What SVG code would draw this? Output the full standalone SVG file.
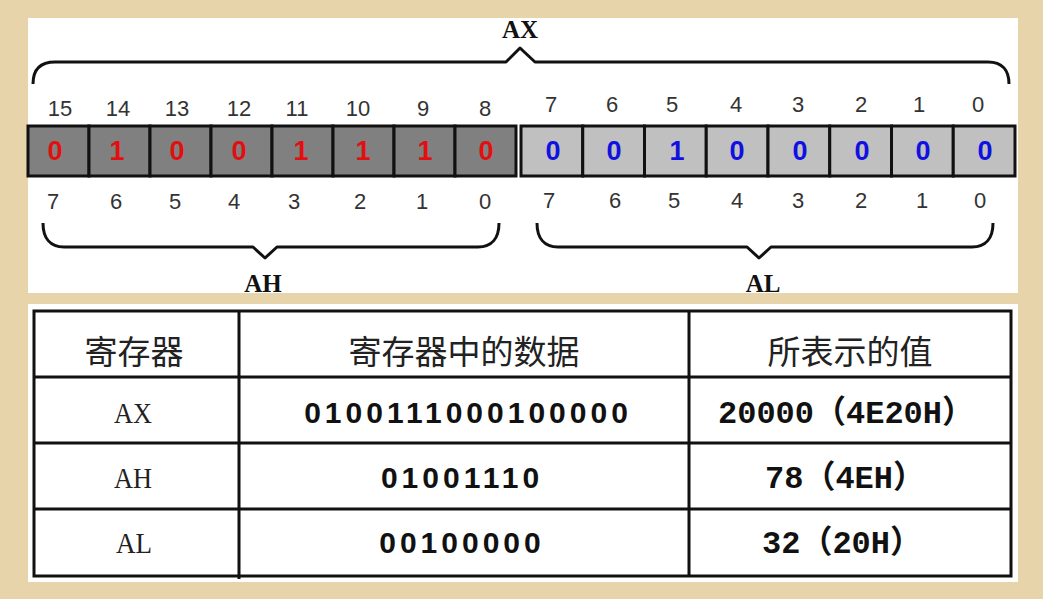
<svg xmlns="http://www.w3.org/2000/svg" width="1043" height="599" viewBox="0 0 1043 599">
<defs>
<style>
.panel{fill:#ffffff}
.cellH{fill:#808080;stroke:#111;stroke-width:3}
.cellL{fill:#c0c0c0;stroke:#111;stroke-width:3}
.bitH{font-family:"Liberation Sans",Arial,sans-serif;font-weight:bold;font-size:27px;fill:#e01010;text-anchor:middle}
.bitL{font-family:"Liberation Sans",Arial,sans-serif;font-weight:bold;font-size:27px;fill:#1010e0;text-anchor:middle}
.idx{font-family:"Liberation Sans",Arial,sans-serif;font-size:22px;fill:#333;text-anchor:middle}
.brace{fill:none;stroke:#111;stroke-width:3;stroke-linejoin:round}
.reg{font-family:"Liberation Serif","Times New Roman",serif;font-weight:bold;font-size:25px;fill:#111;text-anchor:middle}
.grid{stroke:#111;stroke-width:3;fill:none}
.hdr{font-family:"Noto Sans CJK SC","Noto Sans",sans-serif;font-size:33px;fill:#222;text-anchor:middle}
.name{font-family:"Liberation Serif","Times New Roman",serif;font-size:30px;fill:#222;text-anchor:middle}
.bin{font-family:"Liberation Sans",Arial,sans-serif;font-weight:bold;font-size:30px;fill:#111;text-anchor:middle;letter-spacing:4px}
.val{font-family:"Liberation Mono","Courier New","Noto Sans CJK SC",monospace;font-weight:bold;font-size:32px;fill:#111;text-anchor:middle}
</style>
</defs>
<rect width="1043" height="599" fill="#e8d4ab"/>
<rect class="panel" x="28" y="18" width="990" height="275"/>
<rect class="panel" x="28" y="304" width="990" height="278"/>

<g id="ax-label"><text class="reg" x="520" y="38">AX</text></g>
<g id="ah-label"><text class="reg" x="263" y="292">AH</text></g>
<g id="al-label"><text class="reg" x="763" y="292">AL</text></g>

<g id="braces">
<path class="brace" d="M33,84 C33,70 40,62 55,62 L506,62 L520,48 L535,62 L988,62 C1002,62 1009,70 1009,84"/>
<path class="brace" d="M43,223 C43,238 50,247 64,247 L253,247 L265,258 L277,247 L478,247 C492,247 499,238 499,223"/>
<path class="brace" d="M537,223 C537,238 544,247 558,247 L747,247 L759,258 L771,247 L972,247 C986,247 993,238 993,223"/>
</g>

<g id="ah-cells">
<rect class="cellH" x="28" y="126" width="61" height="50"/>
<rect class="cellH" x="89" y="126" width="61" height="50"/>
<rect class="cellH" x="150" y="126" width="61" height="50"/>
<rect class="cellH" x="211" y="126" width="61" height="50"/>
<rect class="cellH" x="272" y="126" width="61" height="50"/>
<rect class="cellH" x="333" y="126" width="61" height="50"/>
<rect class="cellH" x="394" y="126" width="61" height="50"/>
<rect class="cellH" x="455" y="126" width="61" height="50"/>
<text class="bitH" x="55" y="160">0</text>
<text class="bitH" x="117" y="160">1</text>
<text class="bitH" x="177" y="160">0</text>
<text class="bitH" x="239" y="160">0</text>
<text class="bitH" x="301" y="160">1</text>
<text class="bitH" x="363" y="160">1</text>
<text class="bitH" x="425" y="160">1</text>
<text class="bitH" x="486" y="160">0</text>
</g>

<g id="al-cells">
<rect class="cellL" x="521" y="126" width="61.75" height="50"/>
<rect class="cellL" x="582.75" y="126" width="61.75" height="50"/>
<rect class="cellL" x="644.5" y="126" width="61.75" height="50"/>
<rect class="cellL" x="706.25" y="126" width="61.75" height="50"/>
<rect class="cellL" x="768" y="126" width="61.75" height="50"/>
<rect class="cellL" x="829.75" y="126" width="61.75" height="50"/>
<rect class="cellL" x="891.5" y="126" width="61.75" height="50"/>
<rect class="cellL" x="953.25" y="126" width="61.75" height="50"/>
<text class="bitL" x="553" y="160">0</text>
<text class="bitL" x="614" y="160">0</text>
<text class="bitL" x="677" y="160">1</text>
<text class="bitL" x="737" y="160">0</text>
<text class="bitL" x="800" y="160">0</text>
<text class="bitL" x="862" y="160">0</text>
<text class="bitL" x="923" y="160">0</text>
<text class="bitL" x="985" y="160">0</text>
</g>

<g id="top-indices">
<text class="idx" x="60" y="116">15</text>
<text class="idx" x="118" y="116">14</text>
<text class="idx" x="177" y="116">13</text>
<text class="idx" x="239" y="116">12</text>
<text class="idx" x="297" y="116">11</text>
<text class="idx" x="358" y="116">10</text>
<text class="idx" x="423" y="116">9</text>
<text class="idx" x="485" y="116">8</text>
<text class="idx" x="551" y="112">7</text>
<text class="idx" x="612" y="112">6</text>
<text class="idx" x="672" y="112">5</text>
<text class="idx" x="736" y="112">4</text>
<text class="idx" x="798" y="112">3</text>
<text class="idx" x="861" y="112">2</text>
<text class="idx" x="919" y="112">1</text>
<text class="idx" x="978" y="112">0</text>
</g>

<g id="bottom-indices">
<text class="idx" x="53" y="209">7</text>
<text class="idx" x="116" y="209">6</text>
<text class="idx" x="175" y="209">5</text>
<text class="idx" x="234" y="209">4</text>
<text class="idx" x="294" y="209">3</text>
<text class="idx" x="360" y="209">2</text>
<text class="idx" x="422" y="209">1</text>
<text class="idx" x="485" y="209">0</text>
<text class="idx" x="549" y="208">7</text>
<text class="idx" x="615" y="208">6</text>
<text class="idx" x="674" y="208">5</text>
<text class="idx" x="737" y="208">4</text>
<text class="idx" x="798" y="208">3</text>
<text class="idx" x="861" y="208">2</text>
<text class="idx" x="922" y="208">1</text>
<text class="idx" x="980" y="208">0</text>
</g>

<g id="table">
<rect class="grid" x="34" y="311" width="977" height="265"/>
<line class="grid" x1="34" y1="377" x2="1011" y2="377"/>
<line class="grid" x1="34" y1="443" x2="1011" y2="443"/>
<line class="grid" x1="34" y1="509" x2="1011" y2="509"/>
<line class="grid" x1="239" y1="311" x2="239" y2="579"/>
<line class="grid" x1="689" y1="311" x2="689" y2="576"/>
<text class="hdr" x="134" y="364">寄存器</text>
<text class="hdr" x="464" y="364">寄存器中的数据</text>
<text class="hdr" x="850" y="364">所表示的值</text>
<text class="name" x="133" y="423" textLength="38" lengthAdjust="spacingAndGlyphs">AX</text>
<text class="name" x="133" y="488" textLength="38" lengthAdjust="spacingAndGlyphs">AH</text>
<text class="name" x="134" y="553" textLength="36" lengthAdjust="spacingAndGlyphs">AL</text>
<text class="bin" x="468" y="423">0100111000100000</text>
<text class="bin" x="462" y="488">01001110</text>
<text class="bin" x="462" y="553">00100000</text>
<text class="val" x="846" y="423">20000（4E20H）</text>
<text class="val" x="845" y="488">78（4EH）</text>
<text class="val" x="842" y="553">32（20H）</text>
</g>
</svg>
